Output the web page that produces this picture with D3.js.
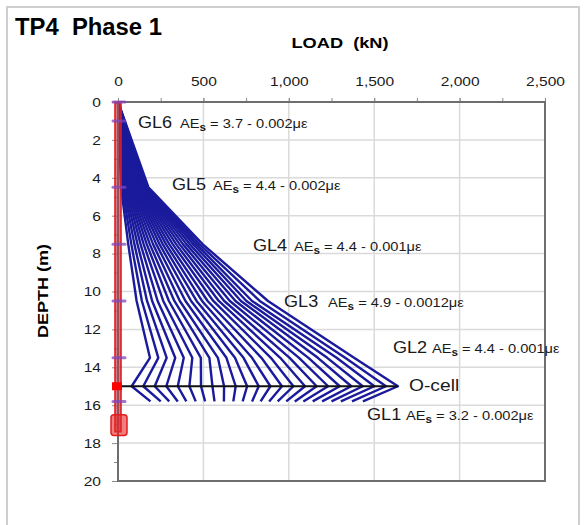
<!DOCTYPE html>
<html>
<head>
<meta charset="utf-8">
<script src="https://cdn.jsdelivr.net/npm/d3@7"></script>
<style>
  body { margin: 0; background: #fff; }
  svg { font-family: "Liberation Sans", Arial, sans-serif; }
</style>
</head>
<body>
<svg id="chart" width="584" height="525"></svg>
<script>
// gauge depths (m): pile top, GL6, GL5, GL4, GL3, GL2, O-cell, GL1
const depths = [0, 1.0, 4.5, 7.5, 10.5, 13.5, 15.0, 15.8]
const markDepths = [0, 1.0, 4.5, 7.5, 10.5, 13.5, 15.8]

// load (kN) at each gauge, one value per load step
const gl6 = [3, 5, 6, 8, 10, 11, 13, 14, 16, 18, 19, 21, 22, 24, 26, 27, 29, 30, 32, 34, 35, 37, 38, 40]
const gl5 = [18, 25, 32, 39, 46, 53, 60, 67, 74, 81, 88, 95, 102, 109, 116, 123, 130, 137, 144, 151, 158, 164, 170, 178]
const gl4 = [60, 78, 96, 114, 132, 150, 168, 186, 205, 224, 243, 262, 281, 300, 320, 340, 360, 380, 400, 420, 440, 458, 476, 495]
const gl3 = [109, 140, 170, 200, 232, 265, 298, 330, 362, 395, 428, 460, 492, 525, 558, 590, 622, 655, 688, 720, 752, 785, 830, 878]
const gl2 = [187, 236, 285, 335, 385, 435, 485, 535, 585, 635, 685, 735, 785, 840, 895, 950, 1005, 1060, 1115, 1170, 1225, 1280, 1330, 1382]
const ocell = [80, 148, 215, 283, 350, 418, 486, 553, 621, 689, 756, 824, 892, 960, 1027, 1095, 1163, 1230, 1298, 1366, 1433, 1501, 1569, 1639]
const gl1 = [190, 250, 300, 350, 400, 455, 510, 565, 620, 675, 730, 785, 835, 885, 935, 985, 1035, 1085, 1140, 1195, 1250, 1305, 1370, 1434]

const xTicks = [0, 500, 1000, 1500, 2000, 2500]
const yTicks = [0, 2, 4, 6, 8, 10, 12, 14, 16, 18, 20]

const labelNames = ['GL6', 'GL5', 'GL4', 'GL3', 'GL2', 'GL1']
const labelAE = ['3.7 - 0.002', '4.4 - 0.002', '4.4 - 0.001', '4.9 - 0.0012', '4.4 - 0.001', '3.2 - 0.002']
// label anchors in chart units: [load of GL text, load of AE text, depth of baseline]
const labelPos = [[117, 363, 1.37], [316, 556, 4.64], [790, 1030, 7.86], [972, 1230, 10.82], [1610, 1838, 13.25], [1458, 1686, 16.78]]

const svg = d3.select('#chart')
const x = d3.scaleLinear().domain([0, 2500]).range([118, 545])
const y = d3.scaleLinear().domain([0, 20]).range([102, 481])

const stretch = (sel, k) => sel.each(function () {
  const w = this.getComputedTextLength()
  this.setAttribute('textLength', w * k)
  this.setAttribute('lengthAdjust', 'spacingAndGlyphs')
})

// outer frame
svg.append('rect')
  .attr('x', 7).attr('y', 7).attr('width', 572).attr('height', 540)
  .attr('fill', '#fff').attr('stroke', '#cfcfcf').attr('stroke-width', 2)

// grid
svg.append('g').selectAll('line')
  .data(xTicks.slice(1, -1))
  .join('line')
    .attr('x1', d => x(d)).attr('x2', d => x(d))
    .attr('y1', y(0)).attr('y2', y(20))
    .attr('stroke', '#dadada').attr('stroke-width', 1.5)
svg.append('g').selectAll('line')
  .data(yTicks.slice(1, -1))
  .join('line')
    .attr('x1', x(0)).attr('x2', x(2500))
    .attr('y1', d => y(d)).attr('y2', d => y(d))
    .attr('stroke', '#dadada').attr('stroke-width', 1.5)

// load distribution lines
const steps = ocell.map((_, i) => [0, gl6[i], gl5[i], gl4[i], gl3[i], gl2[i], ocell[i], gl1[i]])
const line = d3.line().x(d => x(d[0])).y(d => y(d[1]))
svg.append('g').selectAll('path')
  .data(steps)
  .join('path')
    .attr('d', s => line(s.map((v, k) => [v, depths[k]])))
    .attr('fill', 'none')
    .attr('stroke', '#1a1a9c')
    .attr('stroke-width', 2.4)
    .attr('stroke-linejoin', 'round')

// O-cell level
svg.append('line')
  .attr('x1', x(0)).attr('x2', x(d3.max(ocell)))
  .attr('y1', y(15)).attr('y2', y(15))
  .attr('stroke', '#111').attr('stroke-width', 2)

// axes
const fmt = d3.format(',')
const axTop = svg.append('g')
  .attr('transform', `translate(0,${y(0)})`)
  .call(d3.axisTop(x).tickValues(d3.range(0, 2501, 250)).tickSize(4).tickFormat(''))
axTop.select('.domain').remove()
axTop.selectAll('line').attr('stroke', '#8a8a8a')
const axTopLab = svg.append('g')
  .attr('transform', `translate(0,${y(0)})`)
  .call(d3.axisTop(x).tickValues(xTicks).tickSize(4).tickPadding(12).tickFormat(fmt))
axTopLab.select('.domain').remove()
axTopLab.selectAll('line').attr('stroke', '#8a8a8a')
axTopLab.selectAll('text').attr('font-size', 13.5).attr('fill', '#1a1a1a')
  .attr('font-family', '"Liberation Sans", Arial, sans-serif')
  .call(stretch, 1.15)

const axLeft = svg.append('g')
  .attr('transform', `translate(${x(0)},0)`)
  .call(d3.axisLeft(y).tickValues(d3.range(1, 20, 2)).tickSize(4).tickFormat(''))
axLeft.select('.domain').remove()
axLeft.selectAll('line').attr('stroke', '#8a8a8a')
const axLeftLab = svg.append('g')
  .attr('transform', `translate(${x(0)},0)`)
  .call(d3.axisLeft(y).tickValues(yTicks).tickSize(6).tickPadding(11).tickFormat(d3.format('d')))
axLeftLab.select('.domain').remove()
axLeftLab.selectAll('line').attr('stroke', '#8a8a8a')
axLeftLab.selectAll('text').attr('font-size', 13.5).attr('fill', '#1a1a1a')
  .attr('font-family', '"Liberation Sans", Arial, sans-serif')
  .call(stretch, 1.15)

// plot border
svg.append('path')
  .attr('d', `M${x(0)},${y(20)}V${y(0)}H${x(2500)}V${y(20)}Z`)
  .attr('fill', 'none').attr('stroke', '#6e6e6e').attr('stroke-width', 2)

// pile
svg.append('rect')
  .attr('x', x(0) - 3).attr('y', y(0))
  .attr('width', 6).attr('height', y(17.4) - y(0))
  .attr('fill', 'rgba(180,60,80,0.65)').attr('stroke', '#e21c1c').attr('stroke-width', 1.6)
svg.append('rect')
  .attr('x', x(0) - 7).attr('y', y(16.5))
  .attr('width', 16).attr('height', y(17.6) - y(16.5))
  .attr('rx', 3)
  .attr('fill', 'rgba(230,40,40,0.6)').attr('stroke', '#e21c1c').attr('stroke-width', 1.5)
svg.append('rect')
  .attr('x', x(0) - 6).attr('y', y(15) - 4)
  .attr('width', 10).attr('height', 8)
  .attr('fill', '#ff0000')
svg.append('g').selectAll('line')
  .data(markDepths)
  .join('line')
    .attr('x1', x(0) - 5).attr('x2', x(0) + 7)
    .attr('y1', d => y(d)).attr('y2', d => y(d))
    .attr('stroke', 'rgba(130,70,190,0.75)').attr('stroke-width', 3)
    .attr('stroke-linecap', 'round')

// gauge labels
const lab = svg.append('g').attr('fill', '#1a1a1a')
labelNames.forEach((name, i) => {
  const [lx, ax, ld] = labelPos[i]
  lab.append('text')
    .attr('x', x(lx)).attr('y', y(ld))
    .attr('font-size', 16)
    .text(name)
    .call(stretch, 1.13)
  const t = lab.append('text')
    .attr('x', x(ax)).attr('y', y(ld))
    .attr('font-size', 12.5)
  t.append('tspan').text('AE')
  t.append('tspan').attr('font-size', 10).attr('font-weight', 'bold').attr('dy', 3).text('s')
  t.append('tspan').attr('dy', -3).text(` = ${labelAE[i]}\u03bc\u03b5`)
  t.call(stretch, 1.17)
})
lab.append('text')
  .attr('x', x(1704)).attr('y', y(15.25))
  .attr('font-size', 16)
  .text('O-cell')
  .call(stretch, 1.2)

// titles
svg.append('text')
  .attr('x', 15).attr('y', 35)
  .attr('font-size', 23).attr('font-weight', 'bold')
  .attr('textLength', 147).attr('lengthAdjust', 'spacingAndGlyphs')
  .text('TP4\u00a0\u00a0Phase 1')
svg.append('text')
  .attr('x', 340).attr('y', 48)
  .attr('text-anchor', 'middle')
  .attr('font-size', 15).attr('font-weight', 'bold')
  .attr('textLength', 97).attr('lengthAdjust', 'spacingAndGlyphs')
  .text('LOAD\u00a0\u00a0(kN)')
svg.append('text')
  .attr('transform', `translate(48,291) rotate(-90)`)
  .attr('text-anchor', 'middle')
  .attr('font-size', 15).attr('font-weight', 'bold')
  .attr('textLength', 94).attr('lengthAdjust', 'spacingAndGlyphs')
  .text('DEPTH (m)')
</script>
</body>
</html>
